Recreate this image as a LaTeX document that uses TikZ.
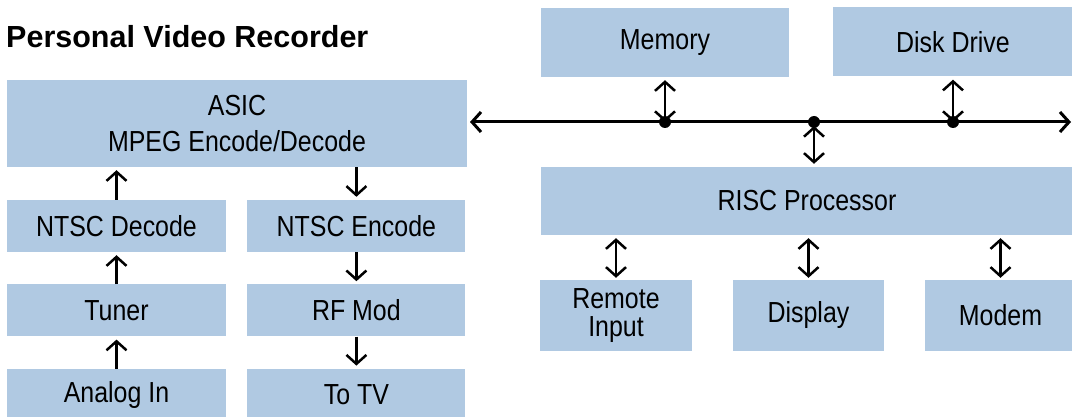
\documentclass[tikz,border=0pt]{standalone}
\usepackage{fontspec}
\setmainfont{Liberation Sans}[FakeStretch=0.86]
\newfontfamily\pvrtitlefont{Liberation Sans}
\usetikzlibrary{arrows.meta,positioning}
\definecolor{pvrblue}{RGB}{176,201,226}
\tikzset{
  pvrbox/.style = {
    rectangle,
    fill=pvrblue,
    align=center,
    inner sep=0pt,
    font=\fontsize{29}{28}\selectfont
  },
  pvrflow/.style = {
    -{Straight Barb[length=9pt,width=20pt]},
    line width=2.5pt
  },
  pvrlink/.style = {
    {Straight Barb[length=9pt,width=20pt]}-{Straight Barb[length=9pt,width=20pt]},
    line width=2.5pt
  },
  busdot/.style = {
    circle,
    fill=black,
    inner sep=0pt,
    minimum size=12pt
  }
}
\begin{document}
\begin{tikzpicture}[x=1pt,y=-1pt]
    \clip (0,0) rectangle (1072,417);
    \node[anchor=base west, inner sep=0pt, font=\pvrtitlefont\bfseries\fontsize{30.5}{30}\selectfont] (title) at (6,48) {Personal Video Recorder};
    % video path
    \node[pvrbox, minimum width=460pt, minimum height=87pt] (asic) at (237,123.5) {ASIC\\[8pt]MPEG Encode/Decode};
    \node[pvrbox, minimum width=219pt, minimum height=52pt] (decode) at (116.5,226) {NTSC Decode};
    \node[pvrbox, minimum width=218pt, minimum height=52pt, right=21pt of decode] (encode) {NTSC Encode};
    \node[pvrbox, minimum width=219pt, minimum height=52pt, below=32pt of decode] (tuner) {Tuner};
    \node[pvrbox, minimum width=218pt, minimum height=52pt, below=32pt of encode] (rfmod) {RF Mod};
    \node[pvrbox, minimum width=219pt, minimum height=52pt, below=32pt of tuner] (analog) {Analog In};
    \node[pvrbox, minimum width=218pt, minimum height=52pt, below=32pt of rfmod] (totv) {To TV};
    \draw[pvrflow, shorten >=3pt] (analog.north) -- (tuner.south);
    \draw[pvrflow, shorten >=3pt] (tuner.north) -- (decode.south);
    \draw[pvrflow, shorten >=3pt] (decode.north) -- (decode.north |- asic.south);
    \draw[pvrflow, shorten >=3pt] (encode.north |- asic.south) -- (encode.north);
    \draw[pvrflow, shorten >=3pt] (encode.south) -- (rfmod.north);
    \draw[pvrflow, shorten >=3pt] (rfmod.south) -- (totv.north);
    % processor side
    \node[pvrbox, minimum width=248pt, minimum height=69pt] (memory) at (665,42.5) {Memory};
    \node[pvrbox, minimum width=240pt, minimum height=69pt] (disk) at (953,42) {Disk Drive};
    \node[pvrbox, minimum width=532pt, minimum height=68pt] (risc) at (807,201) {RISC Processor};
    \node[pvrbox, minimum width=152pt, minimum height=71pt] (remote) at (616,315.5) {Remote\\Input};
    \node[pvrbox, minimum width=151pt, minimum height=71pt] (display) at (808.5,315.5) {Display};
    \node[pvrbox, minimum width=151pt, minimum height=71pt] (modem) at (1000.5,315.5) {Modem};
    \coordinate (buswest) at (470,122);
    \coordinate (buseast) at (1071,122);
    \draw[pvrlink, line width=3pt] (buswest) -- (buseast);
    \node[busdot] (memdot) at (memory.south |- buswest) {};
    \node[busdot] (riscdot) at (814,122) {};
    \node[busdot] (diskdot) at (disk.south |- buswest) {};
    \draw[pvrlink, shorten <=3pt] (memory.south) -- (memdot.center);
    \draw[pvrlink, shorten <=3pt] (disk.south) -- (diskdot.center);
    \draw[pvrlink, shorten <=4pt, shorten >=3pt] (riscdot.center) -- (riscdot |- risc.north);
    \draw[pvrlink, shorten <=3pt, shorten >=2pt] (remote.north |- risc.south) -- (remote.north);
    \draw[pvrlink, shorten <=3pt, shorten >=2pt] (display.north |- risc.south) -- (display.north);
    \draw[pvrlink, shorten <=3pt, shorten >=2pt] (modem.north |- risc.south) -- (modem.north);
\end{tikzpicture}
\end{document}
